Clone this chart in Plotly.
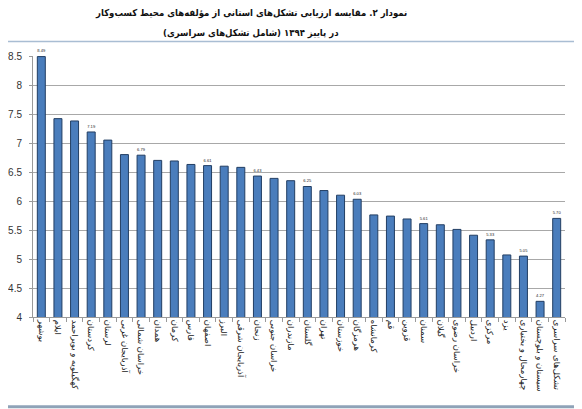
import plotly.graph_objects as go

title_lines = ["نمودار ۲. مقایسه ارزیابی تشکل‌های استانی از مؤلفه‌های محیط کسب‌وکار",
               "(شامل تشکل‌های سراسری) در پاییز ۱۳۹۴"]

provinces = ["بوشهر", "ایلام", "کهگیلویه و بویراحمد", "کردستان", "لرستان",
             "آذربایجان غربی", "خراسان شمالی", "همدان", "کرمان", "فارس",
             "اصفهان", "البرز", "آذربایجان شرقی", "زنجان", "خراسان جنوبی",
             "مازندران", "گلستان", "تهران", "خوزستان", "هرمزگان",
             "کرمانشاه", "قم", "قزوین", "سمنان", "گیلان",
             "خراسان رضوی", "اردبیل", "مرکزی", "یزد", "چهارمحال و بختیاری",
             "سیستان و بلوچستان", "تشکل‌های سراسری"]

scores = [8.49, 7.42, 7.38, 7.19, 7.05,
          6.80, 6.79, 6.70, 6.69, 6.63,
          6.61, 6.60, 6.58, 6.43, 6.39,
          6.35, 6.25, 6.18, 6.10, 6.03,
          5.76, 5.74, 5.69, 5.61, 5.59,
          5.51, 5.41, 5.33, 5.07, 5.05,
          4.27, 5.70]

labelled = [True, False, False, True, False,
            False, True, False, False, False,
            True, False, False, True, False,
            False, True, False, False, True,
            False, False, False, True, False,
            False, False, True, False, True,
            True, True]

y_ticks = [4, 4.5, 5, 5.5, 6, 6.5, 7, 7.5, 8, 8.5]
y_tick_text = ["4", "4.5", "5", "5.5", "6", "6.5", "7", "7.5", "8", "8.5"]

bar_text = [f"{v:.2f}" if s else "" for v, s in zip(scores, labelled)]

fig = go.Figure()
fig.add_trace(go.Bar(
    x=provinces, y=scores,
    text=bar_text, textposition="outside", cliponaxis=False,
    textfont=dict(family="Arial, Liberation Sans, sans-serif", size=7.5, color="#222"),
    marker=dict(color="#4a7dbc", line=dict(color="#223e63", width=1)),
    hoverinfo="x+y",
))

title_font = dict(family="DejaVu Sans Condensed, DejaVu Sans, sans-serif", size=9.5,
                  color="#111", weight="bold")

fig.update_layout(
    width=574, height=401,
    margin=dict(l=25, r=17, t=48, b=92),
    paper_bgcolor="white", plot_bgcolor="white",
    bargap=0.52,
    showlegend=False,
    xaxis=dict(
        type="category",
        tickangle=90,
        tickfont=dict(family="DejaVu Sans, sans-serif", size=8.5, color="#222"),
        showline=True, linecolor="#9a9a9a", linewidth=1,
        ticks="outside", tickson="boundaries", ticklen=4, tickcolor="#9a9a9a",
        showgrid=False,
    ),
    yaxis=dict(
        range=[4, 8.5],
        automargin=False,
        tickmode="array", tickvals=y_ticks, ticktext=y_tick_text,
        tickfont=dict(family="Arial, Liberation Sans, sans-serif", size=10, color="#333"),
        showgrid=True, gridcolor="#a8a8a8", gridwidth=1,
        showline=True, linecolor="#9a9a9a", linewidth=1,
        ticks="outside", ticklen=3, tickcolor="#9a9a9a",
        ticklabelstandoff=5,
        zeroline=False,
    ),
    annotations=[
        dict(text=title_lines[0], xref="paper", yref="paper",
             x=0.409, y=1.163, xanchor="center", yanchor="middle",
             showarrow=False, font=title_font),
        dict(text=title_lines[1], xref="paper", yref="paper",
             x=0.409, y=1.09, xanchor="center", yanchor="middle",
             showarrow=False, font=title_font),
    ],
    shapes=[
        dict(type="line", xref="paper", yref="paper", x0=-0.1, x1=1.1,
             y0=1.056, y1=1.056, line=dict(color="#a9bdd3", width=1.5)),
        dict(type="line", xref="paper", yref="paper", x0=-0.1, x1=1.1,
             y0=-0.344, y1=-0.344, line=dict(color="#8fa3b8", width=3)),
    ],
)

fig.write_html("out.html")
